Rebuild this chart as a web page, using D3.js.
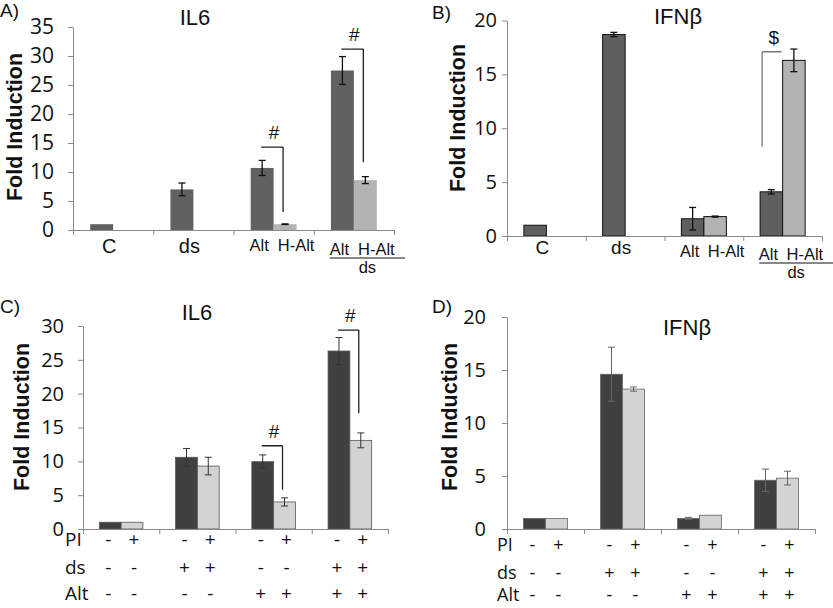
<!DOCTYPE html>
<html><head><meta charset="utf-8">
<script src="https://cdn.jsdelivr.net/npm/d3@7"></script>
<style>body{margin:0;background:#fff} svg{display:block}</style>
</head><body>
<script>
// ---------- DATA ----------
const seriesKeys = ["dark", "light"];
const groupsAB = ["C", "ds", "Alt", "dsAlt"];
const groupsCD = ["g1", "g2", "g3", "g4"];

// Panel A: IL6
const il6A_dark = [1, 7.0, 10.7, 27.5];
const il6A_darkErr = [0, 1.1, 1.3, 2.4];
const il6A_light = [null, null, 1.0, 8.6];
const il6A_lightErr = [null, null, 0.05, 0.6];
const ticksA = [0, 5, 10, 15, 20, 25, 30, 35];

// Panel B: IFNβ
const ifnB_dark = [1, 18.7, 1.6, 4.1];
const ifnB_darkErr = [0, 0.2, 1.05, 0.2];
const ifnB_light = [null, null, 1.8, 16.3];
const ifnB_lightErr = [null, null, 0.05, 1.05];
const ticksB = [0, 5, 10, 15, 20];

// Panel C: IL6 with PI
const il6C_dark = [1, 10.6, 9.95, 26.3];
const il6C_darkErr = [0, 1.3, 1.0, 2.0];
const il6C_light = [1, 9.3, 4.0, 13.1];
const il6C_lightErr = [0, 1.3, 0.6, 1.1];
const ticksC = [0, 5, 10, 15, 20, 25, 30];

// Panel D: IFNβ with PI
const ifnD_dark = [1, 14.6, 1.0, 4.6];
const ifnD_darkErr = [0, 2.55, 0.1, 1.05];
const ifnD_light = [1, 13.2, 1.3, 4.8];
const ifnD_lightErr = [0, 0.2, 0, 0.65];
const ticksD = [0, 5, 10, 15, 20];

// Category labels for A/B
const singleLabels = ["C", "ds", null, null];
const pairLabels = ["Alt", "H-Alt"];
const underGroupLabel = "ds";

// Treatment table for C/D
const tableRowLabels = ["PI", "ds", "Alt"];
const rowPI = ["-", "+", "-", "+", "-", "+", "-", "+"];
const rowDs = ["-", "-", "+", "+", "-", "-", "+", "+"];
const rowAlt = ["-", "-", "-", "-", "+", "+", "+", "+"];

// Significance brackets (group index, top value, end value, side, mark)
const bracketsA = [{g: 2, top: 14.3, end: 3.1, side: "right", mark: "#"},
                   {g: 3, top: 31.2, end: 11.7, side: "right", mark: "#"}];
const bracketsB = [{g: 3, top: 17.1, end: 8.3, side: "left", mark: "$"}];
const bracketsC = [{g: 2, top: 12.3, end: 5.8, side: "right", mark: "#"},
                   {g: 3, top: 29.4, end: 17.1, side: "right", mark: "#"}];

const panelLetters = ["A)", "B)", "C)", "D)"];
const titles = ["IL6", "IFNβ", "IL6", "IFNβ"];
const yTitle = "Fold Induction";

// ---------- DRAWING ----------
const W = 833, H = 608;
const svg = d3.select("body").append("svg").attr("width", W).attr("height", H);
const TICKF = "'Open Sans', sans-serif";
const LABF = "'Liberation Sans', Arial, sans-serif";

function drawPanel(cfg) {
  const g = svg.append("g");
  const x = d3.scaleBand().domain(cfg.groups).range([cfg.left, cfg.right]);
  const xs = d3.scaleBand().domain(seriesKeys).range([0, x.bandwidth()]).paddingInner(0).paddingOuter(0.75);
  const y = d3.scaleLinear().domain([0, cfg.max]).range([cfg.bottom, cfg.top]);

  const bars = [];
  cfg.groups.forEach((grp, i) => {
    bars.push({grp, key: "dark", v: cfg.dark[i], e: cfg.darkErr[i]});
    bars.push({grp, key: "light", v: cfg.light[i], e: cfg.lightErr[i]});
  });
  const valid = bars.filter(d => d.v != null);

  g.selectAll("rect.bar").data(valid).join("rect").attr("class", "bar")
    .attr("x", d => x(d.grp) + xs(d.key))
    .attr("width", xs.bandwidth())
    .attr("y", d => y(d.v))
    .attr("height", d => y(0) - y(d.v))
    .attr("fill", d => d.key === "dark" ? cfg.darkColor : cfg.lightColor)
    .attr("stroke", cfg.barStroke || "none")
    .attr("stroke-width", cfg.barStroke ? cfg.barStrokeW : 0);

  // error bars
  const eb = valid.filter(d => d.e);
  const cx = d => x(d.grp) + xs(d.key) + xs.bandwidth() / 2;
  const ebG = g.append("g").attr("stroke", cfg.errColor).attr("stroke-width", cfg.errW);
  ebG.selectAll("line.v").data(eb).join("line")
    .attr("x1", cx).attr("x2", cx).attr("y1", d => y(d.v + d.e)).attr("y2", d => y(d.v - d.e));
  ebG.selectAll("line.t").data(eb).join("line")
    .attr("x1", d => cx(d) - 3.5).attr("x2", d => cx(d) + 3.5).attr("y1", d => y(d.v + d.e)).attr("y2", d => y(d.v + d.e));
  ebG.selectAll("line.b").data(eb).join("line")
    .attr("x1", d => cx(d) - 3.5).attr("x2", d => cx(d) + 3.5).attr("y1", d => y(d.v - d.e)).attr("y2", d => y(d.v - d.e));

  // y axis
  const ya = g.append("g").attr("transform", `translate(${cfg.left},0)`)
    .call(d3.axisLeft(y).tickValues(cfg.ticks).tickSize(5).tickSizeOuter(0).tickPadding(cfg.tickPad));
  ya.select(".domain").attr("stroke", "#8a8a8a");
  ya.selectAll(".tick line").attr("stroke", "#8a8a8a");
  ya.selectAll(".tick text").attr("font-family", TICKF).attr("font-size", cfg.tickFs).attr("fill", "#111");

  // x axis
  const xb = d3.scaleLinear().domain([0, cfg.groups.length]).range([cfg.left, cfg.right]);
  const xa = g.append("g").attr("transform", `translate(0,${cfg.bottom})`)
    .call(d3.axisBottom(xb).tickValues(d3.range(cfg.groups.length + 1)).tickSize(5).tickSizeOuter(0).tickFormat(""));
  xa.select(".domain").attr("stroke", "#8a8a8a");
  xa.selectAll(".tick line").attr("stroke", "#8a8a8a");

  // brackets
  (cfg.brackets || []).forEach(b => {
    const grp = cfg.groups[b.g];
    let hx0, hx1, vx;
    if (b.side === "right") {
      hx0 = x(grp) + xs("dark") + xs.bandwidth() / 2 - 1;
      hx1 = x(grp) + xs("light") + xs.bandwidth() / 2 - 2;
      vx = hx1;
    } else {
      hx0 = x(grp) + xs("dark") + 2;
      hx1 = x(grp) + xs("light") - 1;
      vx = hx0;
    }
    const yt = y(b.top);
    g.append("path").attr("d", `M${hx0},${yt}H${hx1}M${vx},${yt}V${y(b.end)}`)
      .attr("fill", "none").attr("stroke", cfg.bracketColor).attr("stroke-width", 1.3);
    g.append("text").attr("x", (hx0 + hx1) / 2 + 2).attr("y", yt - 8)
      .attr("text-anchor", "middle").attr("font-family", LABF).attr("font-size", 19).attr("fill", "#111").text(b.mark);
  });

  // title, letter, y title
  g.append("text").attr("x", cfg.titleX).attr("y", cfg.titleY).attr("text-anchor", "middle")
    .attr("font-family", LABF).attr("font-size", 22).attr("fill", "#111").text(cfg.title);
  g.append("text").attr("x", cfg.letterX).attr("y", cfg.letterY)
    .attr("font-family", LABF).attr("font-size", 19).attr("fill", "#111").text(cfg.letter);
  g.append("text").attr("transform", `translate(${cfg.ytX},${cfg.ytY}) rotate(-90)`)
    .attr("text-anchor", "middle").attr("dominant-baseline", "central")
    .attr("font-family", LABF).attr("font-weight", "bold").attr("font-size", 21.5).attr("fill", "#111").text(yTitle);

  return {g, x, xs, y};
}

function abLabels(p, cfg) {
  const {g, x, xs} = p;
  cfg.groups.forEach((grp, i) => {
    const c = x(grp) + x.bandwidth() / 2;
    if (singleLabels[i]) {
      g.append("text").attr("x", c - 4).attr("y", cfg.catY).attr("text-anchor", "middle")
        .attr("font-family", LABF).attr("font-size", cfg.catFs).attr("fill", "#111").text(singleLabels[i]);
    } else {
      const dy = i === 3 ? cfg.pairDy2 : 0;
      const dC = x(grp) + xs("dark") + xs.bandwidth() / 2;
      const lC = x(grp) + xs("light") + xs.bandwidth() / 2;
      g.append("text").attr("x", dC - 3).attr("y", cfg.pairY + dy).attr("text-anchor", "middle")
        .attr("font-family", LABF).attr("font-size", 16.5).attr("fill", "#111").text(pairLabels[0]);
      g.append("text").attr("x", lC + 11).attr("y", cfg.pairY + dy).attr("text-anchor", "middle")
        .attr("font-family", LABF).attr("font-size", 16.5).attr("fill", "#111").text(pairLabels[1]);
      if (i === 3) {
        const ul = cfg.pairY + dy + 3;
        g.append("line").attr("x1", x(grp) + 16).attr("x2", x(grp) + x.bandwidth() + 11)
          .attr("y1", ul).attr("y2", ul).attr("stroke", "#111").attr("stroke-width", 1);
        g.append("text").attr("x", (x(grp) + 16 + x(grp) + x.bandwidth() + 11) / 2).attr("y", ul + 15)
          .attr("text-anchor", "middle").attr("font-family", LABF).attr("font-size", 16.5).attr("fill", "#111").text(underGroupLabel);
      }
    }
  });
}

function tableRows(p, cfg) {
  const {g, x, xs} = p;
  const rows = [rowPI, rowDs, rowAlt];
  rows.forEach((row, r) => {
    const yy = cfg.rowY[r];
    g.append("text").attr("x", cfg.rowLabelX).attr("y", yy)
      .attr("font-family", TICKF).attr("font-size", cfg.rowFs).attr("fill", "#111").text(tableRowLabels[r]);
    row.forEach((s, k) => {
      const grp = cfg.groups[Math.floor(k / 2)];
      const key = seriesKeys[k % 2];
      const c = x(grp) + xs(key) + xs.bandwidth() / 2 + (k % 2 ? 2 : -2);
      g.append("text").attr("x", c).attr("y", yy).attr("text-anchor", "middle")
        .attr("font-family", TICKF).attr("font-size", cfg.rowFs).attr("fill", "#111").text(s);
    });
  });
}

// Panel A
const cfgA = {groups: groupsAB, dark: il6A_dark, darkErr: il6A_darkErr, light: il6A_light, lightErr: il6A_lightErr,
  left: 73, right: 394, bottom: 230, top: 27, max: 35, ticks: ticksA, tickPad: 14, tickFs: 21,
  darkColor: "#616161", lightColor: "#b3b3b3", barStroke: null, errColor: "#111", errW: 1.3,
  bracketColor: "#222", brackets: bracketsA,
  title: titles[0], titleX: 195, titleY: 25, letter: panelLetters[0], letterX: 0, letterY: 17, ytX: 15, ytY: 127,
  catY: 253, catFs: 20, pairY: 251, pairDy2: 4};
const pA = drawPanel(cfgA); abLabels(pA, cfgA);

// Panel B
const cfgB = {groups: groupsAB, dark: ifnB_dark, darkErr: ifnB_darkErr, light: ifnB_light, lightErr: ifnB_lightErr,
  left: 507, right: 822, bottom: 236, top: 20.5, max: 20, ticks: ticksB, tickPad: 5, tickFs: 20,
  darkColor: "#5f5f5f", lightColor: "#b3b3b3", barStroke: "#111", barStrokeW: 1, errColor: "#111", errW: 1.3,
  bracketColor: "#777", brackets: bracketsB,
  title: titles[1], titleX: 678, titleY: 24, letter: panelLetters[1], letterX: 432, letterY: 19, ytX: 458, ytY: 118,
  catY: 254, catFs: 19, pairY: 257, pairDy2: 3};
const pB = drawPanel(cfgB); abLabels(pB, cfgB);

// Panel C
const cfgC = {groups: groupsCD, dark: il6C_dark, darkErr: il6C_darkErr, light: il6C_light, lightErr: il6C_lightErr,
  left: 83, right: 388, bottom: 529, top: 326, max: 30, ticks: ticksC, tickPad: 14, tickFs: 20,
  darkColor: "#404040", lightColor: "#d3d3d3", barStroke: "#555", barStrokeW: 0.8, errColor: "#333", errW: 1,
  bracketColor: "#222", brackets: bracketsC,
  title: titles[2], titleX: 197, titleY: 320, letter: panelLetters[2], letterX: 0, letterY: 313, ytX: 22, ytY: 417,
  rowY: [546, 574, 600], rowLabelX: 65, rowFs: 19};
const pC = drawPanel(cfgC); tableRows(pC, cfgC);

// Panel D
const cfgD = {groups: groupsCD, dark: ifnD_dark, darkErr: ifnD_darkErr, light: ifnD_light, lightErr: ifnD_lightErr,
  left: 507, right: 815, bottom: 529, top: 317, max: 20, ticks: ticksD, tickPad: 16, tickFs: 20,
  darkColor: "#404040", lightColor: "#d3d3d3", barStroke: "#666", barStrokeW: 0.8, errColor: "#666", errW: 1,
  bracketColor: "#222", brackets: [],
  title: titles[3], titleX: 687, titleY: 335, letter: panelLetters[3], letterX: 432, letterY: 313, ytX: 450, ytY: 417,
  rowY: [551, 579, 601], rowLabelX: 497, rowFs: 18};
const pD = drawPanel(cfgD); tableRows(pD, cfgD);
</script>
</body></html>
